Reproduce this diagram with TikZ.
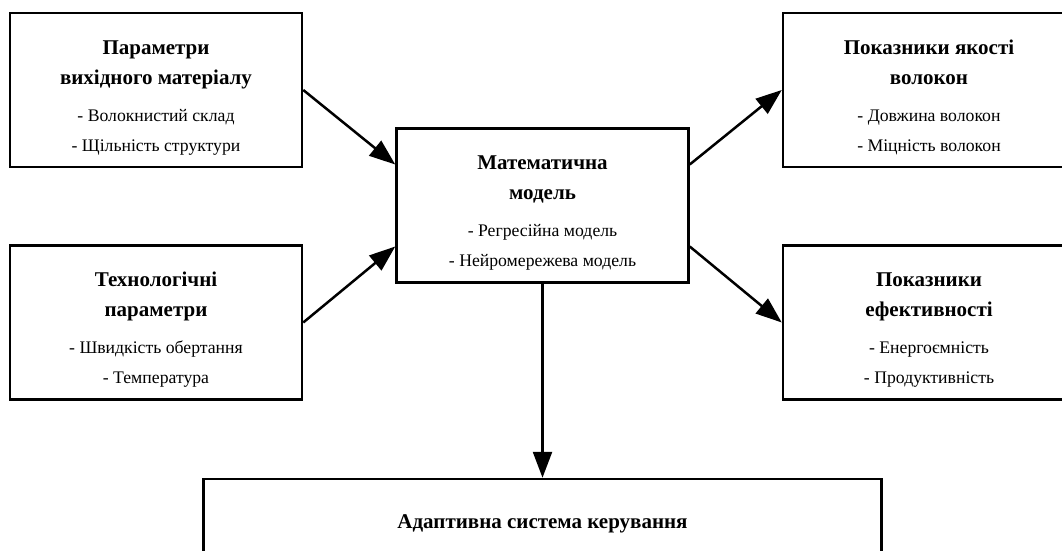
\documentclass[tikz,border=0pt]{standalone}
\usepackage{fontspec}
\setmainfont{Liberation Serif}
\usepackage{tikz}
\usetikzlibrary{arrows.meta,positioning}

\newcommand{\ttl}{\fontsize{21}{30}\selectfont\bfseries}
\newcommand{\hd}[1]{\rule{0pt}{29pt}{\ttl #1}}

\begin{document}
\begin{tikzpicture}[
  x=1pt, y=-1pt,
  box/.style={rectangle, draw, line width=2.5pt, align=center, minimum width=292pt, minimum height=154pt, inner sep=0pt, font=\fontsize{17.7}{30}\selectfont},
  arr/.style={-{Triangle[length=26pt,width=19pt]}, line width=2.5pt}
]
  \clip (0,0) rectangle (1062,551);
  \def\lx{156} \def\mx{542.5} \def\rx{929}
  \def\ty{90} \def\my{205.5} \def\by{322.5}

  \node[box] (pm) at (\lx,\ty) {\hd{Параметри}\\{\ttl вихідного матеріалу}\\[7pt]- Волокнистий склад\\- Щільність структури};
  \node[box] (tp) at (\lx,\by) {\hd{Технологічні}\\{\ttl параметри}\\[7pt]- Швидкість обертання\\- Температура};
  \node[box] (mm) at (\mx,\my) {\hd{Математична}\\{\ttl модель}\\[7pt]- Регресійна модель\\- Нейромережева модель};
  \node[box] (pq) at (\rx,\ty) {\hd{Показники якості}\\{\ttl волокон}\\[7pt]- Довжина волокон\\- Міцність волокон};
  \node[box] (pe) at (\rx,\by) {\hd{Показники}\\{\ttl ефективності}\\[7pt]- Енергоємність\\- Продуктивність};
  \node[box, minimum width=678pt, minimum height=90pt] (ac) at (\mx,524) {\ttl Адаптивна система керування};

  \draw[arr] (pm.east) -- ([yshift=41pt]mm.west);
  \draw[arr] (tp.east) -- ([yshift=-41pt]mm.west);
  \draw[arr] ([yshift=41pt]mm.east) -- (pq.west);
  \draw[arr] ([yshift=-41pt]mm.east) -- (pe.west);
  \draw[arr] (mm.south) -- (ac.north);
\end{tikzpicture}
\end{document}
